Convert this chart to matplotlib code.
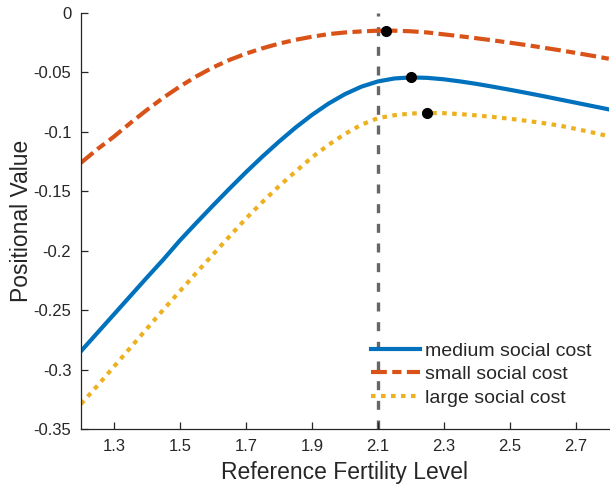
import matplotlib
matplotlib.use("Agg")
import matplotlib.pyplot as plt

plt.rcParams['font.family'] = ['Liberation Sans', 'DejaVu Sans']

x = [1.2, 1.25, 1.3, 1.35, 1.4, 1.45, 1.5, 1.55, 1.6, 1.65, 1.7, 1.75, 1.8, 1.85, 1.9, 1.95,
     2.0, 2.05, 2.1, 2.15, 2.2, 2.25, 2.3, 2.35, 2.4, 2.45, 2.5, 2.55, 2.6, 2.65, 2.7, 2.75, 2.8]
medium = [-0.2845, -0.269, -0.2535, -0.238, -0.2225, -0.2073, -0.1913, -0.1765, -0.1620,
          -0.1478, -0.1340, -0.1208, -0.1083, -0.0965, -0.0858, -0.0763, -0.0683, -0.0620,
          -0.0576, -0.0551, -0.0542, -0.0546, -0.0558, -0.0576, -0.0597, -0.0621, -0.0646,
          -0.0672, -0.0699, -0.0727, -0.0755, -0.0783, -0.0811]
small = [-0.126, -0.1145, -0.104, -0.0925, -0.0815, -0.0712, -0.0618, -0.0533, -0.0458,
         -0.0395, -0.0342, -0.0297, -0.0258, -0.0226, -0.0200, -0.0178, -0.0164, -0.0155,
         -0.0149, -0.0149, -0.0154, -0.0164, -0.0180, -0.0196, -0.0213, -0.0231, -0.0250,
         -0.0270, -0.0291, -0.0313, -0.0336, -0.0360, -0.0385]
large = [-0.329, -0.3135, -0.2975, -0.2815, -0.2655, -0.2495, -0.2340, -0.2185, -0.2032,
         -0.1880, -0.1730, -0.1590, -0.1458, -0.1335, -0.1215, -0.1110, -0.1018, -0.0940,
         -0.0885, -0.0860, -0.0846, -0.0841, -0.0843, -0.0851, -0.0862, -0.0875, -0.0890,
         -0.0907, -0.0926, -0.0947, -0.0975, -0.1005, -0.1037]

peak_x = [2.2, 2.125, 2.25]
peak_y = [-0.0542, -0.0148, -0.0841]

ref_level = 2.1
labels = ['medium social cost', 'small social cost', 'large social cost']
xticks = [1.3, 1.5, 1.7, 1.9, 2.1, 2.3, 2.5, 2.7]
yticks = [0, -0.05, -0.1, -0.15, -0.2, -0.25, -0.3, -0.35]
yticklabels = ['0', '-0.05', '-0.1', '-0.15', '-0.2', '-0.25', '-0.3', '-0.35']

c_blue = '#0072BD'
c_orange = '#D95319'
c_yellow = '#EDB120'
dark = '#262626'

fig = plt.figure(figsize=(6.1, 4.86), dpi=100)
ax = fig.add_axes([0.1328, 0.1173, 0.8652, 0.856])

ax.axvline(ref_level, color='#666666', lw=2.4, dashes=(2.7, 3.2), dash_capstyle='butt', zorder=1)

l1, = ax.plot(x, medium, color=c_blue, lw=3, solid_joinstyle='round', zorder=2)
l2, = ax.plot(x, small, color=c_orange, lw=3, dashes=(3.8, 1.3, 2.2, 1.3), dash_capstyle='butt', zorder=2)
l3, = ax.plot(x, large, color=c_yellow, lw=3, dashes=(1.1, 1.3), dash_capstyle='butt', zorder=2)

ax.plot(peak_x, peak_y, 'o', color='black', ms=7, zorder=3)

ax.set_xlim(1.2, 2.8)
ax.set_ylim(-0.35, 0)
ax.set_xticks(xticks)
ax.set_xticklabels([f'{v:.1f}' for v in xticks])
ax.set_yticks(yticks)
ax.set_yticklabels(yticklabels)

for s in ['top', 'right']:
    ax.spines[s].set_visible(False)
for s in ['left', 'bottom']:
    ax.spines[s].set_color(dark)
    ax.spines[s].set_linewidth(0.9)

ax.tick_params(direction='in', length=5, width=0.9, colors=dark, labelsize=12, pad=7)

ax.set_xlabel('Reference Fertility Level', fontsize=16.5, color=dark, labelpad=5)
ax.set_ylabel('Positional Value', fontsize=16.5, color=dark, labelpad=0)

leg = ax.legend([l1, l2, l3], labels, loc='lower left', bbox_to_anchor=(0.535, 0.035),
                frameon=False, fontsize=14, handlelength=2.5, handletextpad=0.25,
                labelspacing=0.3, borderaxespad=0)
for t in leg.get_texts():
    t.set_color(dark)

fig.savefig('out.png', dpi=100)
